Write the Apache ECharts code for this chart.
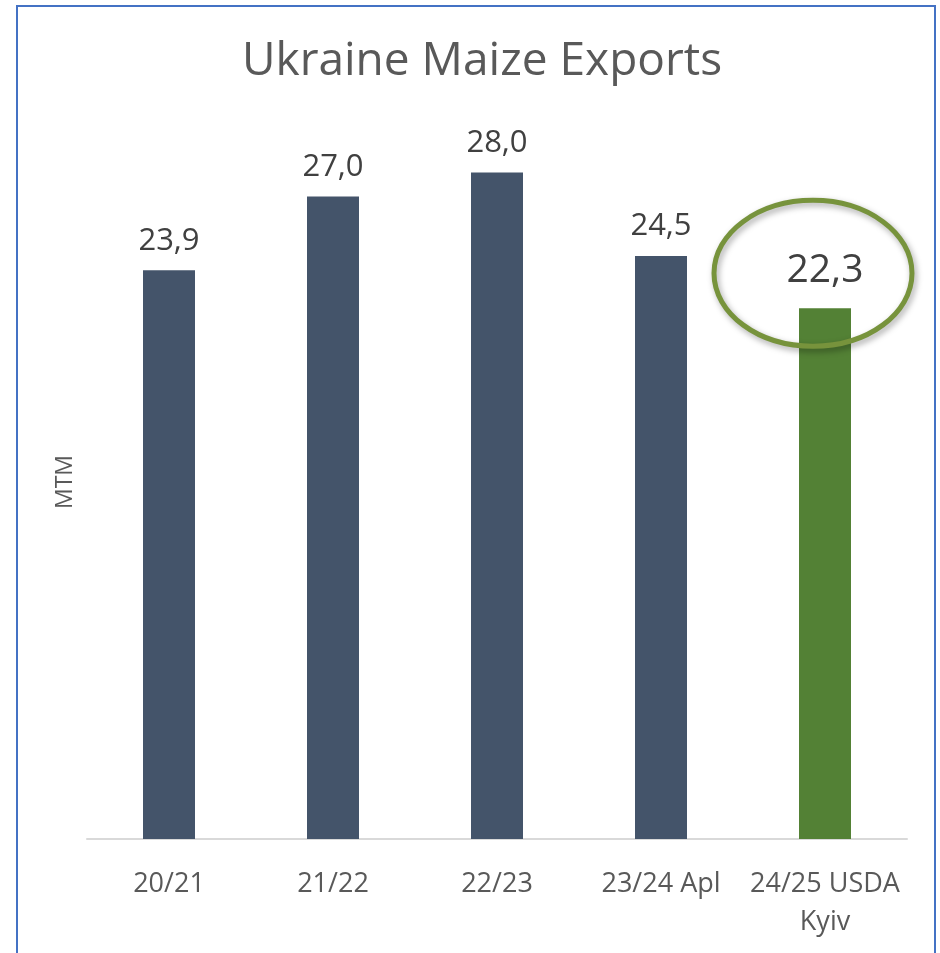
<!DOCTYPE html>
<html lang="en">
<head>
  <meta charset="UTF-8" />
  <title>Ukraine Maize Exports</title>
  <script src="https://cdn.jsdelivr.net/npm/echarts@6/dist/echarts.min.js"></script>
  <style>
    body { margin: 0; background: #fff; }
    #chart { width: 940px; height: 953px; }
  </style>
</head>
<body>
  <div id="chart"></div>
  <script>
    // datos
    const seasons = ['20/21', '21/22', '22/23', '23/24 Apl', '24/25 USDA\nKyiv'];
    const exportsMtm = [23.9, 27.0, 28.0, 24.5, 22.3];
    const highlightIndex = 4;

    const myChart = echarts.init(document.getElementById('chart'));
    const fontFam = '"Open Sans", sans-serif';

    const barData = exportsMtm.map(function (v, i) {
      if (i === highlightIndex) {
        return {
          value: v,
          itemStyle: { color: '#538135' },
          label: { fontSize: 39, distance: 18 }
        };
      }
      return v;
    });

    const option = {
      backgroundColor: '#fff',
      animation: false,
      title: {
        text: 'Ukraine Maize Exports',
        left: 477,
        textAlign: 'center',
        top: 34,
        textStyle: { color: '#595959', fontSize: 46, fontWeight: 'normal', fontFamily: fontFam }
      },
      grid: { left: 87, right: 33, top: 125, bottom: 114 },
      xAxis: {
        type: 'category',
        data: seasons,
        axisTick: { show: false },
        axisLine: { lineStyle: { color: '#d9d9d9', width: 2 } },
        axisLabel: {
          interval: 0,
          color: '#595959',
          fontSize: 27,
          lineHeight: 38,
          margin: 26,
          fontFamily: fontFam
        }
      },
      yAxis: {
        type: 'value',
        min: 0,
        max: 30,
        name: 'MTM',
        nameLocation: 'middle',
        nameGap: 10,
        nameTextStyle: { color: '#595959', fontSize: 23, fontFamily: fontFam },
        axisLabel: { show: false },
        axisLine: { show: false },
        axisTick: { show: false },
        splitLine: { show: false }
      },
      series: [{
        type: 'bar',
        data: barData,
        barWidth: 52,
        itemStyle: { color: '#44546a' },
        label: {
          show: true,
          position: 'top',
          distance: 14,
          color: '#404040',
          fontSize: 31,
          fontFamily: fontFam,
          formatter: function (p) { return p.value.toFixed(1).replace('.', ','); }
        }
      }]
    };
    myChart.setOption(option);

    // elipse de resaltado y marco azul
    const barTop = myChart.convertToPixel({ seriesIndex: 0 }, [highlightIndex, exportsMtm[highlightIndex]]);
    myChart.setOption({
      graphic: [
        {
          type: 'ellipse',
          shape: { cx: barTop[0] - 12, cy: barTop[1] - 35, rx: 99, ry: 73 },
          style: {
            fill: 'none',
            stroke: '#77933c',
            lineWidth: 5,
            shadowBlur: 6,
            shadowOffsetX: 2,
            shadowOffsetY: 3,
            shadowColor: 'rgba(0,0,0,0.35)'
          },
          z: 10
        },
        {
          type: 'rect',
          shape: { x: 17, y: 6, width: 918, height: 960 },
          style: { fill: 'none', stroke: '#4472c4', lineWidth: 2 },
          z: 10
        }
      ]
    });
  </script>
</body>
</html>
